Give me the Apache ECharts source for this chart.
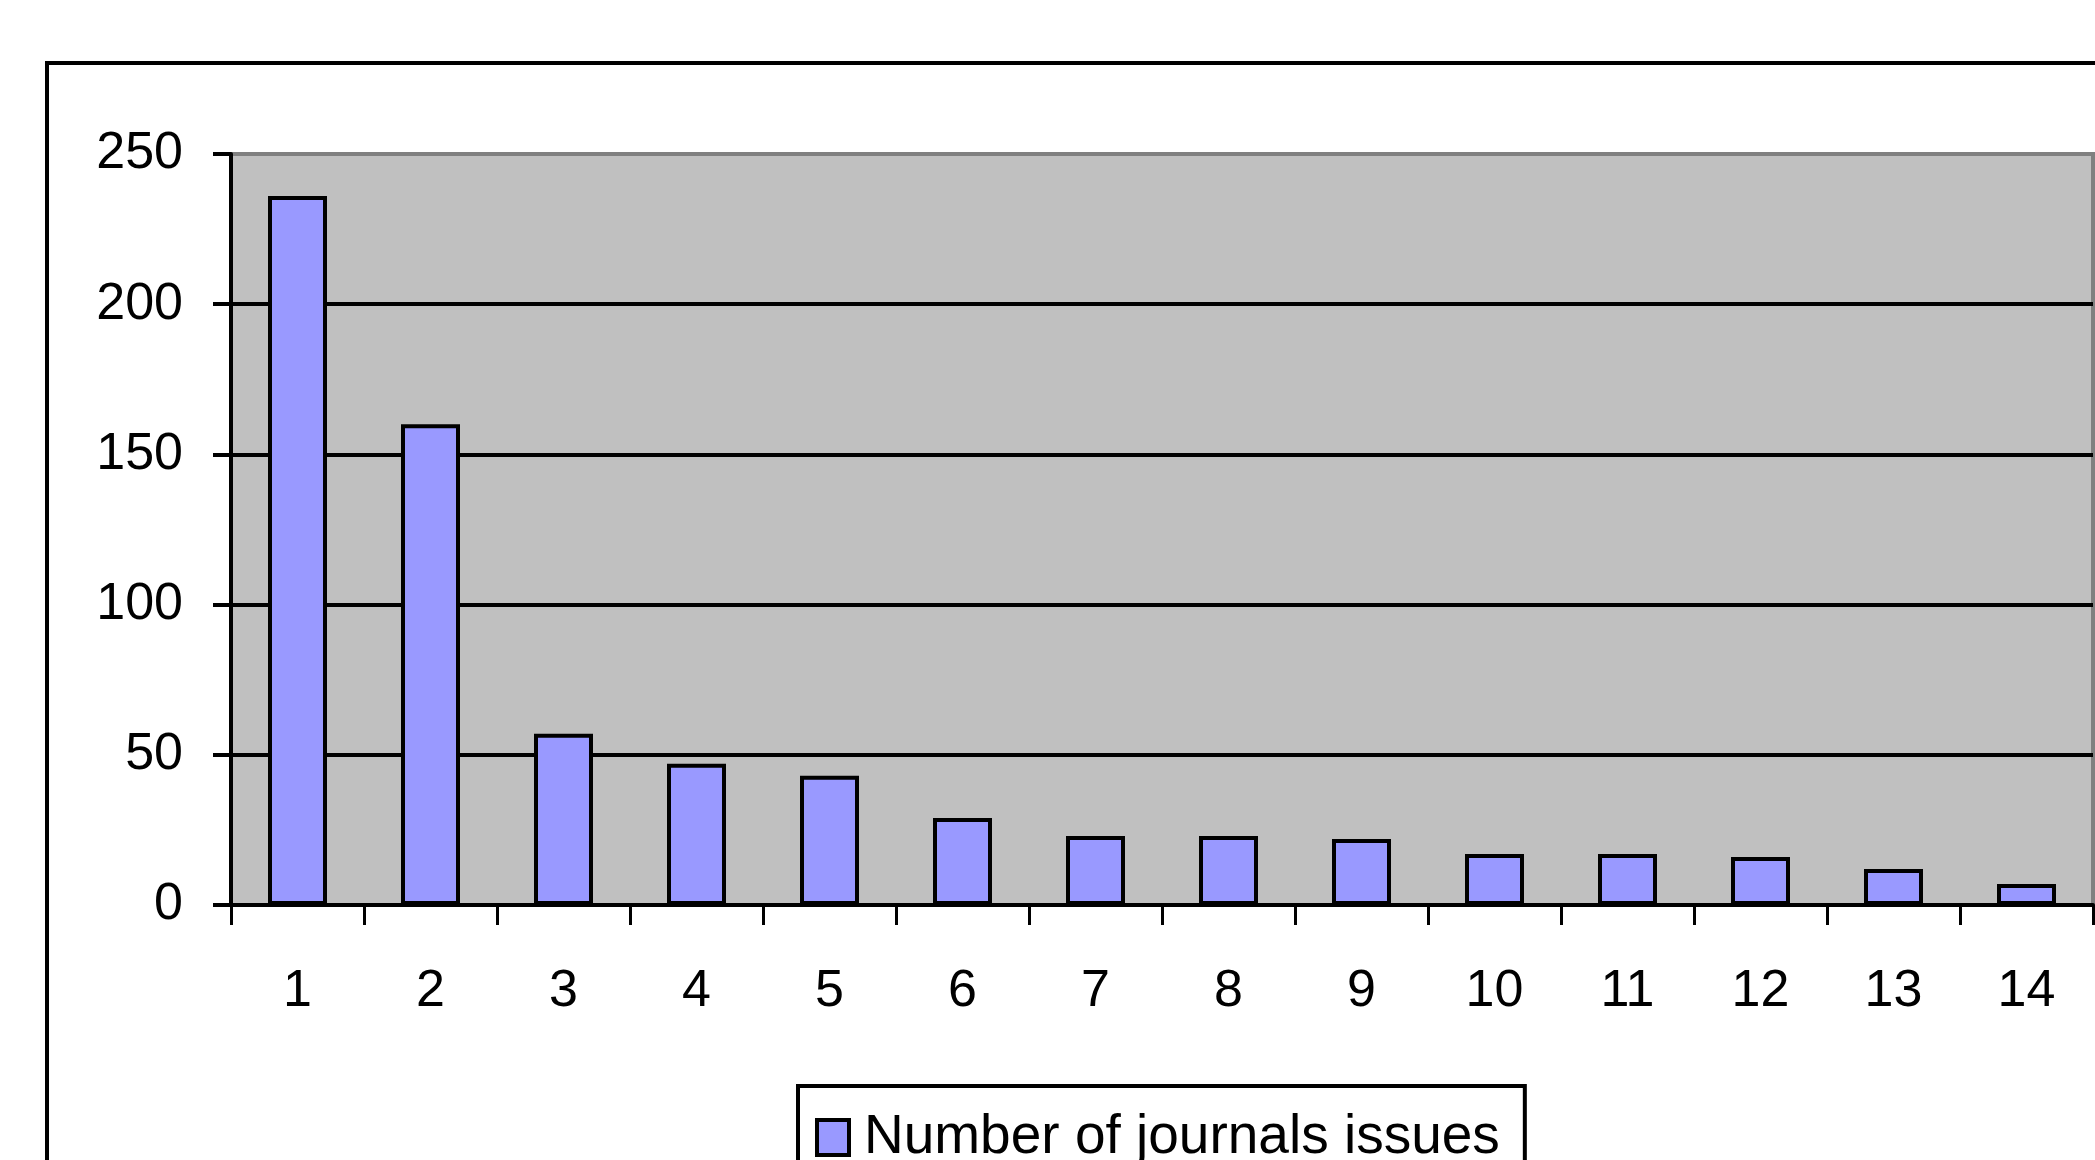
<!DOCTYPE html>
<html>
<head>
<meta charset="utf-8">
<script src="https://cdn.jsdelivr.net/npm/echarts@6/dist/echarts.min.js"></script>
<style>
  html, body { margin: 0; padding: 0; background: #fff; }
  #chart { width: 2095px; height: 1160px; }
</style>
</head>
<body>
<div id="chart"></div>
<script>
// values
const categories = ['1', '2', '3', '4', '5', '6', '7', '8', '9', '10', '11', '12', '13', '14']
const journalIssues = [236, 160, 57, 47, 43, 29, 23, 23, 22, 17, 17, 16, 12, 7]
const seriesName = 'Number of journals issues'

const font = 'Liberation Sans'
const chart = echarts.init(document.getElementById('chart'))

const option = {
  backgroundColor: '#fff',
  animation: false,
  textStyle: { fontFamily: font },
  // outer chart frame (runs off the picture on the right and bottom)
  graphic: [
    {
      type: 'rect',
      shape: { x: 47, y: 63, width: 2200, height: 1300 },
      style: { fill: 'none', stroke: '#000', lineWidth: 4 },
      z: -1
    }
  ],
  grid: {
    left: 231,
    top: 154,
    right: 2,
    bottom: 255,
    show: true,
    backgroundColor: '#c0c0c0',
    borderColor: '#808080',
    borderWidth: 4
  },
  legend: {
    data: [seriesName],
    left: 798,
    top: 1086,
    orient: 'horizontal',
    backgroundColor: '#fff',
    borderColor: '#000',
    borderWidth: 4,
    padding: [24, 25, 40, 17],
    icon: 'rect',
    itemWidth: 32,
    itemHeight: 35,
    itemStyle: { borderColor: '#000', borderWidth: 4 },
    textStyle: { fontSize: 55, color: '#000', fontFamily: font, padding: [0, 0, 0, 10] }
  },
  xAxis: {
    type: 'category',
    data: categories,
    boundaryGap: true,
    axisLine: { show: true, lineStyle: { color: '#000', width: 4 } },
    axisTick: { show: true, interval: 0, length: 20, lineStyle: { color: '#000', width: 3 } },
    axisLabel: { fontSize: 52, color: '#000', margin: 61, interval: 0 },
    splitLine: { show: false }
  },
  yAxis: {
    type: 'value',
    min: 0,
    max: 250,
    interval: 50,
    axisLine: { show: true, lineStyle: { color: '#000', width: 4 } },
    axisTick: { show: true, length: 18, lineStyle: { color: '#000', width: 4 } },
    axisLabel: { fontSize: 52, color: '#000', margin: 48 },
    splitLine: {
      show: true,
      showMaxLine: false,
      lineStyle: { color: '#000', width: 4 }
    }
  },
  series: [
    {
      name: seriesName,
      type: 'bar',
      data: journalIssues,
      barWidth: 59,
      itemStyle: { color: '#9999ff', borderColor: '#000', borderWidth: 4 }
    }
  ]
}

chart.setOption(option)
</script>
</body>
</html>
